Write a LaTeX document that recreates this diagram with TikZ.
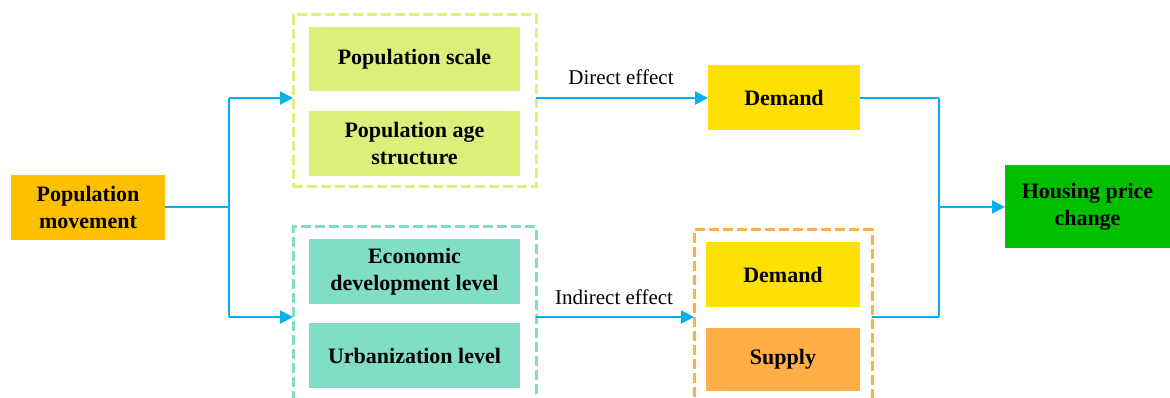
\documentclass[tikz,border=0pt]{standalone}
\usepackage{fontspec}
\setmainfont{Liberation Serif}
\usetikzlibrary{arrows.meta}
\definecolor{arrowblue}{HTML}{00B0F0}
\definecolor{pmorange}{HTML}{FFC000}
\definecolor{lgreen}{HTML}{DBF07B}
\definecolor{lgreenborder}{HTML}{DDF07A}
\definecolor{teal}{HTML}{7FDEC3}
\definecolor{tealborder}{HTML}{7FDEC3}
\definecolor{demandyellow}{HTML}{FFE000}
\definecolor{supplyorange}{HTML}{FFAF45}
\definecolor{orangeborder}{HTML}{FFB040}
\definecolor{housegreen}{HTML}{00C000}
\begin{document}
\begin{tikzpicture}[x=1pt,y=-1pt,
  box/.style={anchor=north west, inner sep=0pt, outer sep=0pt, align=center,
    font=\fontsize{22}{27}\selectfont\bfseries},
  grp/.style={anchor=north west, inner sep=0pt, outer sep=0pt, line width=3pt,
    dash pattern=on 10pt off 4pt},
  conn/.style={draw=arrowblue, line width=2pt},
  arr/.style={conn, -{Triangle[length=13pt,width=13pt]}},
  lbl/.style={font=\fontsize{21}{25}\selectfont, inner sep=0pt}
]
\useasboundingbox (0,0) rectangle (1170,398);

% dashed groups
\node[grp, draw=lgreenborder, minimum width=243pt, minimum height=172pt] (g1) at (293,15) {};
\node[grp, draw=tealborder, minimum width=243pt, minimum height=176pt] (g2) at (293,227) {};
\node[grp, draw=orangeborder, minimum width=178pt, minimum height=173pt] (g3) at (694,230) {};

% boxes
\node[box, fill=pmorange, minimum width=154pt, minimum height=65pt] (pm) at (11,175) {Population\\movement};
\node[box, fill=lgreen, minimum width=211pt, minimum height=64pt] (ps) at (309,27) {Population scale\vphantom{g}};
\node[box, fill=lgreen, minimum width=211pt, minimum height=65pt] (pa) at (309,111) {Population age\\structure};
\node[box, fill=teal, minimum width=211pt, minimum height=65pt] (ed) at (309,239) {Economic\\development level};
\node[box, fill=teal, minimum width=211pt, minimum height=65pt] (ul) at (309,323) {Urbanization level};
\node[box, fill=demandyellow, minimum width=152pt, minimum height=65pt] (d1) at (708,65) {Demand};
\node[box, fill=demandyellow, minimum width=154pt, minimum height=65pt] (d2) at (706,242) {Demand};
\node[box, fill=supplyorange, minimum width=154pt, minimum height=63pt] (sp) at (706,328) {Supply};
\node[box, fill=housegreen, minimum width=165pt, minimum height=83pt] (hp) at (1005,165) {Housing price\\change};

% labels
\node[lbl] (de) at (621,77) {Direct effect};
\node[lbl] (ie) at (614,297) {Indirect effect};

% junction coordinates
\coordinate (j1top) at (229,98);
\coordinate (j1bot) at (229,317);
\coordinate (j1mid) at (229,207);
\coordinate (j2top) at (939,98);
\coordinate (j2bot) at (939,317);
\coordinate (j2mid) at (939,207);

% connectors
\draw[conn] (pm.east |- j1mid) -- (j1mid);
\draw[conn] (j1top) -- (j1bot);
\draw[arr] (j1top) -- (j1top -| g1.west);
\draw[arr] (j1bot) -- (j1bot -| g2.west);
\draw[arr] (g1.east |- j1top) -- (j1top -| d1.west);
\draw[arr] (g2.east |- j1bot) -- (j1bot -| g3.west);
\draw[conn] (d1.east |- j2top) -- (j2top);
\draw[conn] (g3.east |- j2bot) -- (j2bot);
\draw[conn] (j2top) -- (j2bot);
\draw[arr] (j2mid) -- (j2mid -| hp.west);
\end{tikzpicture}
\end{document}
